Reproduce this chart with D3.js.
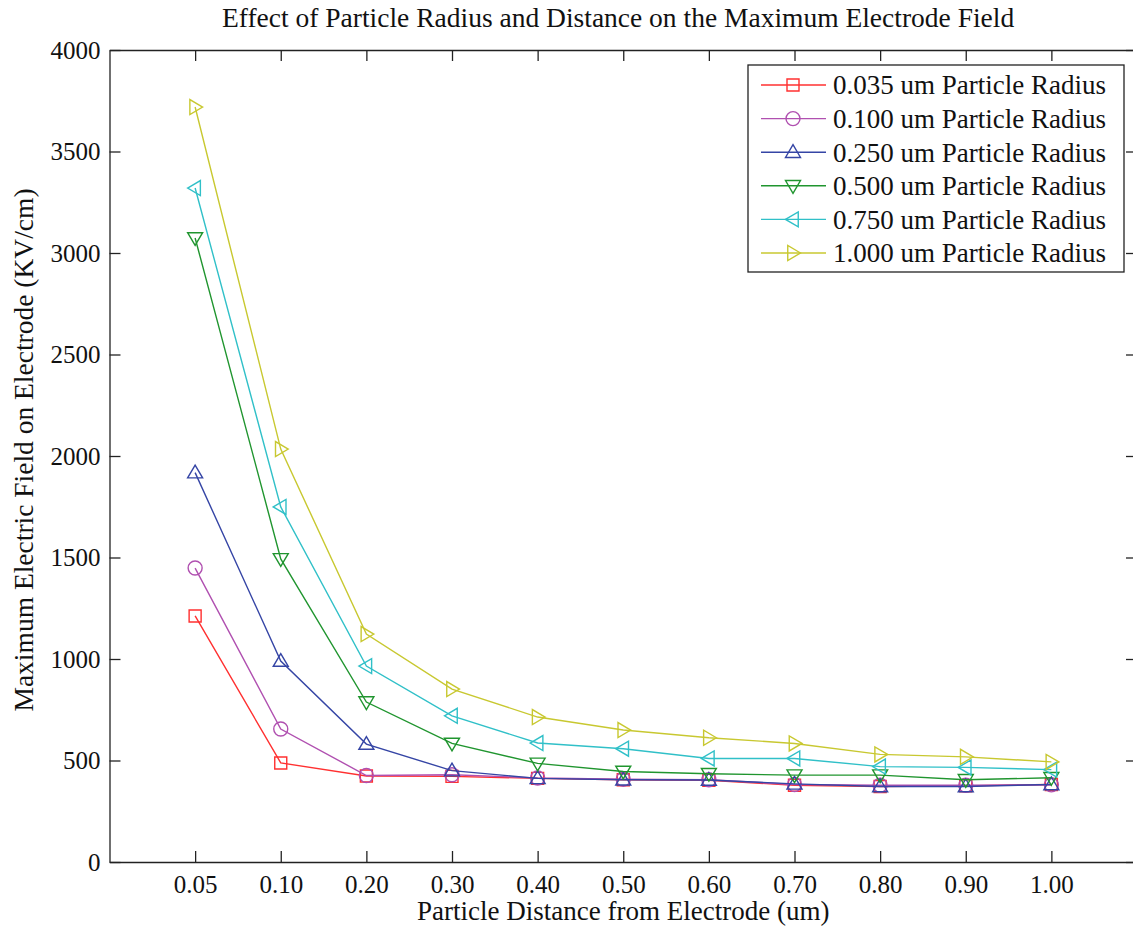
<!DOCTYPE html>
<html>
<head>
<meta charset="utf-8">
<script src="https://cdn.jsdelivr.net/npm/d3@7"></script>
<style>
    body { margin: 0; background: #fff; }
    text { font-family: "Liberation Serif", "DejaVu Serif", serif; fill: #111; }
</style>
</head>
<body>
<script>
const distances = ['0.05', '0.10', '0.20', '0.30', '0.40', '0.50', '0.60', '0.70', '0.80', '0.90', '1.00'];
const radius035 = [1212, 488, 424, 422, 412, 405, 402, 378, 372, 375, 382];
const radius100 = [1448, 655, 426, 430, 414, 408, 405, 382, 378, 378, 380];
const radius250 = [1918, 990, 581, 450, 412, 405, 404, 385, 372, 372, 382];
const radius500 = [3074, 1493, 788, 584, 486, 446, 435, 428, 428, 405, 415];
const radius750 = [3320, 1749, 965, 720, 586, 558, 510, 510, 470, 466, 455];
const radius1000 = [3719, 2034, 1123, 852, 714, 650, 612, 584, 530, 518, 493];
const yTicks = [0, 500, 1000, 1500, 2000, 2500, 3000, 3500, 4000];

const series = [
    {name: '0.035 um Particle Radius', values: radius035, color: '#ff3030', marker: 'square'},
    {name: '0.100 um Particle Radius', values: radius100, color: '#b050b0', marker: 'circle'},
    {name: '0.250 um Particle Radius', values: radius250, color: '#3545a5', marker: 'up'},
    {name: '0.500 um Particle Radius', values: radius500, color: '#20952f', marker: 'down'},
    {name: '0.750 um Particle Radius', values: radius750, color: '#30c0c8', marker: 'left'},
    {name: '1.000 um Particle Radius', values: radius1000, color: '#c8c830', marker: 'right'}
];

const width = 1133;
const height = 932;
const margin = {top: 50, right: -4, bottom: 70, left: 109.5};

const svg = d3.select('body')
    .append('svg')
    .attr('width', width)
    .attr('height', height);

const x = d3.scaleLinear().domain([0, distances.length + 1]).range([margin.left, width - margin.right]);
const y = d3.scaleLinear().domain([0, 4000]).range([height - margin.bottom, margin.top]);

// title
svg.append('text')
    .attr('x', 222)
    .attr('y', 27)
    .style('font-size', '27.5px')
    .text('Effect of Particle Radius and Distance on the Maximum Electrode Field');

// axes, ticks pointing inward, mirrored top and right
const xIdx = d3.range(1, distances.length + 1);
svg.append('g')
    .attr('transform', `translate(0,${y(0)})`)
    .call(d3.axisBottom(x).tickValues(xIdx).tickFormat(i => distances[i - 1]).tickSizeInner(-11).tickSizeOuter(0).tickPadding(13))
    .call(g => g.selectAll('text').style('font-size', '25px'));
svg.append('g')
    .attr('transform', `translate(0,${y(4000)})`)
    .call(d3.axisTop(x).tickValues(xIdx).tickFormat('').tickSizeInner(-11).tickSizeOuter(0));
svg.append('g')
    .attr('transform', `translate(${x(0)},0)`)
    .call(d3.axisLeft(y).tickValues(yTicks).tickFormat(d3.format('d')).tickSizeInner(-11).tickSizeOuter(0).tickPadding(9))
    .call(g => g.selectAll('text').style('font-size', '25px'));
svg.append('g')
    .attr('transform', `translate(${x(distances.length + 1)},0)`)
    .call(d3.axisRight(y).tickValues(yTicks).tickFormat('').tickSizeInner(-11).tickSizeOuter(0));

svg.selectAll('.domain').attr('stroke', '#222').attr('stroke-width', 1.3);
svg.selectAll('.tick line').attr('stroke', '#222').attr('stroke-width', 1.3);
svg.selectAll('.tick text').attr('fill', '#111');

// axis labels
svg.append('text')
    .attr('x', (x(0) + x(distances.length + 1)) / 2)
    .attr('y', 920)
    .attr('text-anchor', 'middle')
    .style('font-size', '27px')
    .text('Particle Distance from Electrode (um)');
svg.append('text')
    .attr('transform', `translate(33,${(y(0) + y(4000)) / 2 - 6}) rotate(-90)`)
    .attr('text-anchor', 'middle')
    .style('font-size', '27.5px')
    .text('Maximum Electric Field on Electrode (KV/cm)');

function markerPath(type)
{
    const s = 7.5;
    switch (type)
    {
        case 'square': return `M${-6},${-6}H6V6H-6Z`;
        case 'circle': return 'M7,0A7,7 0 1,1 -7,0A7,7 0 1,1 7,0Z';
        case 'up': return `M0,${-s}L${s},${s * 0.7}L${-s},${s * 0.7}Z`;
        case 'down': return `M0,${s}L${s},${-s * 0.7}L${-s},${-s * 0.7}Z`;
        case 'left': return `M${-s},0L${s * 0.7},${-s}L${s * 0.7},${s}Z`;
        case 'right': return `M${s},0L${-s * 0.7},${-s}L${-s * 0.7},${s}Z`;
    }
}

const line = d3.line()
    .x((d, i) => x(i + 1))
    .y(d => y(d));

const plot = svg.append('g');

series.forEach(s =>
{
    const g = plot.append('g');
    g.append('path')
        .attr('d', line(s.values))
        .attr('fill', 'none')
        .attr('stroke', s.color)
        .attr('stroke-width', 1.4);
    g.selectAll('path.mk')
        .data(s.values)
        .enter()
        .append('path')
        .attr('class', 'mk')
        .attr('transform', (d, i) => `translate(${x(i + 1)},${y(d)})`)
        .attr('d', markerPath(s.marker))
        .attr('fill', 'none')
        .attr('stroke', s.color)
        .attr('stroke-width', 1.4);
});

// legend
const legend = svg.append('g').attr('transform', 'translate(748,65)');
legend.append('rect')
    .attr('width', 376)
    .attr('height', 207)
    .attr('fill', '#fff')
    .attr('stroke', '#222')
    .attr('stroke-width', 1.3);

const rows = legend.selectAll('g.row')
    .data(series)
    .enter()
    .append('g')
    .attr('class', 'row')
    .attr('transform', (d, i) => `translate(0,${20 + i * 33.6})`);
rows.append('line')
    .attr('x1', 13).attr('x2', 78)
    .attr('stroke', d => d.color)
    .attr('stroke-width', 1.4);
rows.append('path')
    .attr('transform', 'translate(45,0)')
    .attr('d', d => markerPath(d.marker))
    .attr('fill', 'none')
    .attr('stroke', d => d.color)
    .attr('stroke-width', 1.4);
rows.append('text')
    .attr('x', 85)
    .attr('dy', '0.35em')
    .style('font-size', '27px')
    .text(d => d.name);
</script>
</body>
</html>
